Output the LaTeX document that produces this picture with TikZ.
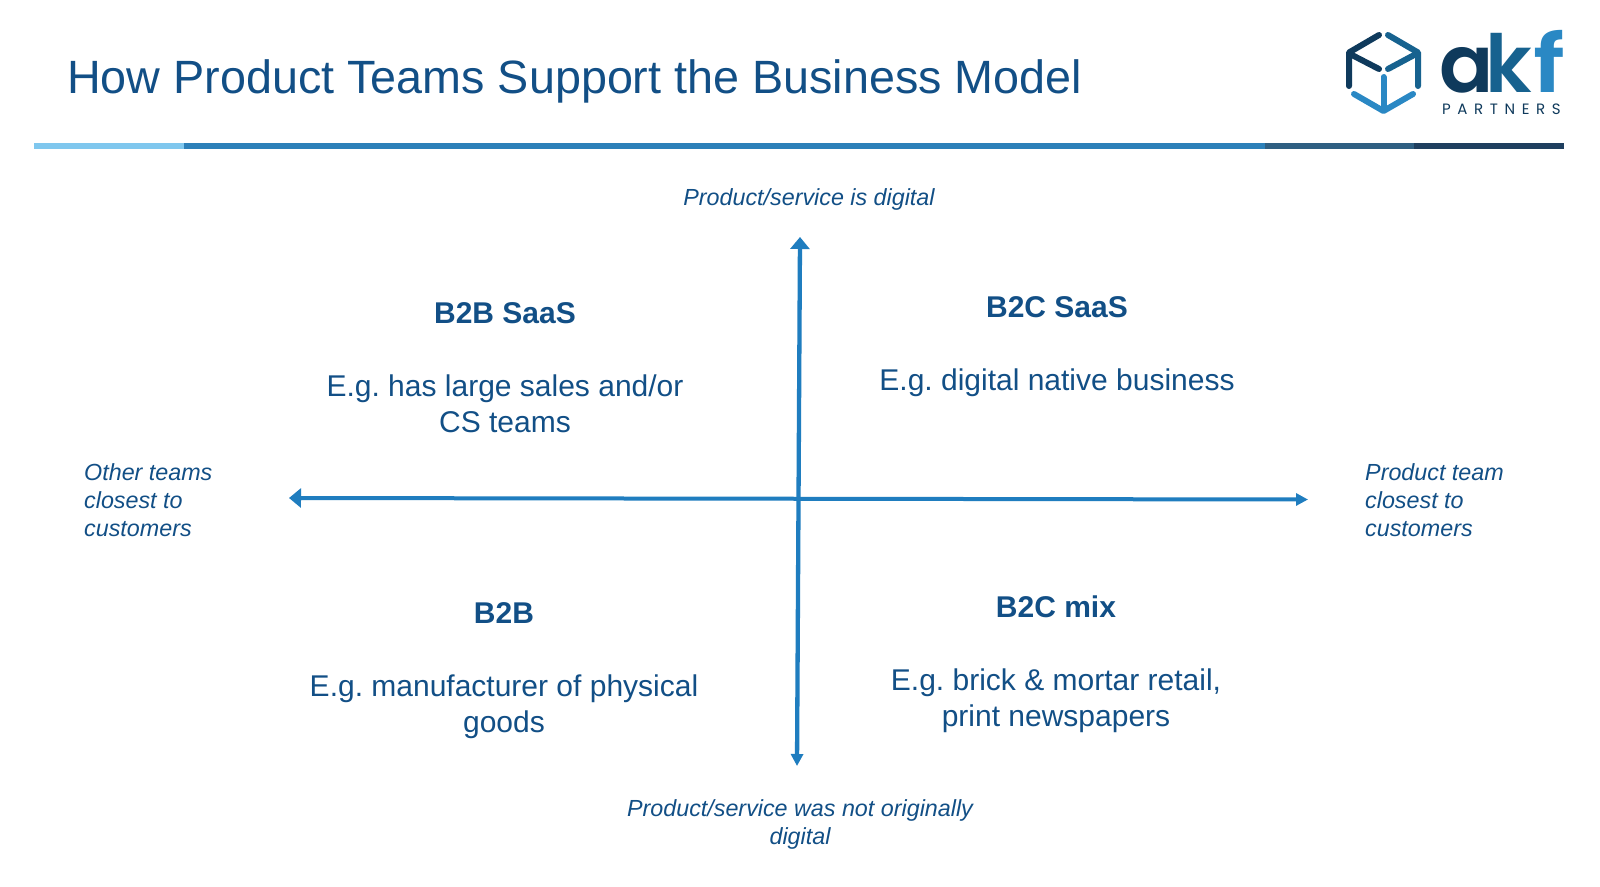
\documentclass[tikz,border=0pt]{standalone}
\usepackage{fontspec}
\setmainfont{Liberation Sans}
\newfontfamily\logofont{Poppins SemiBold}
\newfontfamily\logosubfont[LetterSpace=44]{Poppins}
\usetikzlibrary{arrows.meta}
\definecolor{inkblue}{HTML}{124F86}
\definecolor{axisblue}{HTML}{1F7DBF}
\definecolor{barlight}{HTML}{7FC7EE}
\definecolor{barmid}{HTML}{2C80B9}
\definecolor{barslate}{HTML}{2F5F82}
\definecolor{bardark}{HTML}{1F3F5F}
\definecolor{logodark}{HTML}{0F3A5C}
\definecolor{logomid}{HTML}{17628F}
\definecolor{logolight}{HTML}{2A88C4}
\tikzset{
  slidetitle/.style={anchor=base west,inner sep=0pt,text=inkblue,font=\fontsize{46.7}{56}\selectfont},
  quadhead/.style={anchor=base,inner sep=0pt,text=inkblue,font=\fontsize{30}{36}\selectfont\bfseries},
  quadbody/.style={anchor=base,inner sep=0pt,text=inkblue,align=center,font=\fontsize{30}{36}\selectfont\frenchspacing},
  axisnote/.style={anchor=base,inner sep=0pt,text=inkblue,font=\fontsize{23.3}{28}\selectfont\itshape},
  axisleft/.style={axisnote,align=left,anchor=base west},
  axisline/.style={draw=axisblue,line width=4.3pt},
  cubestroke/.style={line width=6pt,line cap=round,line join=round},
  logoglyph/.style={anchor=base west,inner sep=0pt,font=\fontsize{80}{80}\selectfont\logofont},
}
\begin{document}
\begin{tikzpicture}[x=1pt,y=-1pt]
\useasboundingbox (0,0) rectangle (1600,886);
\fill[white] (0,0) rectangle (1600,886);

% Title and the four-part rule below it
\node[slidetitle] (title) at (67,93) {How Product Teams Support the Business Model};
\fill[barlight] (34,143) rectangle (184,149);
\fill[barmid] (184,143) rectangle (1265,149);
\fill[barslate] (1265,143) rectangle (1414,149);
\fill[bardark] (1414,143) rectangle (1564,149);

% Logo: cube outline
\draw[cubestroke,logodark] (1379,35) -- (1349,52.5) -- (1349,86);
\draw[cubestroke,logodark] (1350,54) -- (1379,69);
\draw[cubestroke,logomid] (1388,35) -- (1418,52.5) -- (1418,86);
\draw[cubestroke,logomid] (1388,69) -- (1416,54);
\draw[cubestroke,logolight] (1354,94) -- (1383.5,111) -- (1413,94);
\draw[cubestroke,logolight] (1383.5,77) -- (1383.5,110);

% Logo: wordmark
\node[logoglyph,text=logodark] (logoa) at (1439,92) {a};
\node[logoglyph,text=logomid] (logok) at (1485,92) {k};
\node[logoglyph,text=logolight,xscale=1.15] (logof) at (1533.5,92) {f};
\node[anchor=base west,inner sep=0pt,text=logodark,font=\fontsize{15}{15}\selectfont\logosubfont] (logosub) at (1442,114) {PARTNERS};

% Axes
\coordinate (top) at (800,237);
\coordinate (bottom) at (797,766);
\coordinate (left) at (289,498);
\coordinate (right) at (1308,499.5);
\draw[axisline,{Triangle[width=19pt,length=12pt]}-{Triangle[width=12pt,length=12pt]}] (top) -- (bottom);
\draw[axisline,line width=4pt,{Triangle[width=19pt,length=12pt]}-{Triangle[width=12pt,length=12pt]}] (left) -- (right);

% Axis end labels
\node[axisnote] (digital) at (809,205) {Product/service is digital};
\node[axisnote,align=center] (notdigital) at (800,844) {Product/service was not originally\\digital};
\node[axisleft] (others) at (84,536) {Other teams\\closest to\\customers};
\node[axisleft] (product) at (1365,536) {Product team\\closest to\\customers};

% Quadrants
\node[quadhead] (b2bsaas) at (505,323.5) {B2B SaaS};
\node[quadbody] (b2bsaastext) at (505,432) {E.g. has large sales and/or\\CS teams};
\node[quadhead] (b2csaas) at (1057,317) {B2C SaaS};
\node[quadbody] (b2csaastext) at (1057,390) {E.g. digital native business};
\node[quadhead] (b2b) at (504,623.5) {B2B};
\node[quadbody] (b2btext) at (504,732) {E.g. manufacturer of physical\\goods};
\node[quadhead] (b2cmix) at (1056,617.5) {B2C mix};
\node[quadbody] (b2cmixtext) at (1056,726.5) {E.g. brick \& mortar retail,\\print newspapers};
\end{tikzpicture}
\end{document}
